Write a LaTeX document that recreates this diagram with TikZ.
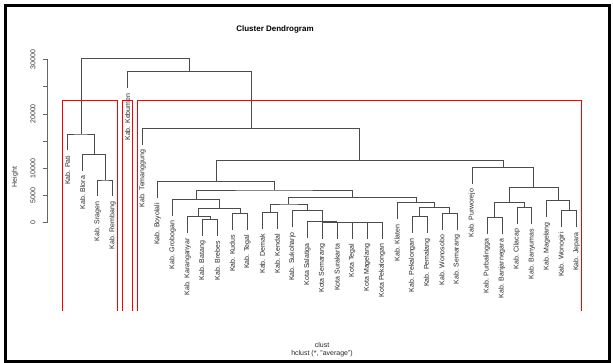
\documentclass[tikz,border=0pt]{standalone}
\usepackage{fontspec}
\setmainfont{Liberation Sans}
\usetikzlibrary{positioning, calc}

\begin{document}
\begin{tikzpicture}[x=1pt, y=-1pt]
        % Define styles
        \tikzset{
            branch/.style={black!70, line width=0.6pt},
            cutbox/.style={red, line width=0.7pt},
            leaflabel/.style={font=\fontsize{7}{8}\selectfont, text=black!85, rotate=90, anchor=east, inner sep=0pt},
            axislabel/.style={font=\fontsize{7}{8}\selectfont, text=black!80, rotate=90, inner sep=0pt}
        }
        \useasboundingbox (0,0) rectangle (613,363);
        % Outer frame
        \draw[line width=3pt] (5,6) rectangle (609,361);
        % Title
        \node[font=\bfseries\fontsize{8}{9}\selectfont] (title) at (275,29) {Cluster Dendrogram};
        % Axis with ticks (heights in thousands)
        \draw[black!60] (47,222.7) -- (47,59.5);
        \foreach \h in {0,5,...,30}
            \draw[black!60] (47,{222.7-5.44*\h}) -- ++(-4,0);
        \foreach \h/\t in {0/0, 5/5000, 10/10000, 20/20000, 30/30000}
            \node[axislabel] (tick-\h) at (33,{222.7-5.44*\h}) {\t};
        \node[axislabel] (ylab) at (15,177) {Height};
        % Leaves: name / bottom of leaf line / text
        \foreach \n/\b/\t [count=\i from 0] in {
            pati/150.5/Kab. Pati, blora/170.8/Kab. Blora, sragen/196.5/Kab. Sragen,
            rembang/196.5/Kab. Rembang, kebumen/88.5/Kab. Kebumen, temanggung/144.8/Kab. Temanggung,
            boyolali/198.2/Kab. Boyolali, grobogan/215.8/Kab. Grobogan, karanganyar/233.2/Kab. Karanganyar,
            batang/235.8/Kab. Batang, brebes/235.8/Kab. Brebes, kudus/229.8/Kab. Kudus,
            tegal/229.8/Kab. Tegal, demak/229.2/Kab. Demak, kendal/229.2/Kab. Kendal,
            sukoharjo/227.2/Kab. Sukoharjo, ktsalatiga/238.2/Kota Salatiga, ktsemarang/238.8/Kota Semarang,
            ktsurakarta/238.8/Kota Surakarta, kttegal/238.8/Kota Tegal, ktmagelang/238.8/Kota Magelang,
            ktpekalongan/238.8/Kota Pekalongan, klaten/219.2/Kab. Klaten, pekalongan/233.2/Kab. Pekalongan,
            pemalang/233.2/Kab. Pemalang, wonosobo/229.8/Kab. Wonosobo, semarang/229.8/Kab. Semarang,
            purworejo/183.8/Kab. Purworejo, purbalingga/233.8/Kab. Purbalingga, banjarnegara/233.8/Kab. Banjarnegara,
            cilacap/223.8/Kab. Cilacap, banyumas/223.8/Kab. Banyumas, magelang/217.2/Kab. Magelang,
            wonogiri/227.2/Kab. Wonogiri, jepara/227.2/Kab. Jepara}
        {
            \coordinate (\n) at ({67.7+14.97*\i},\b);
            \node[leaflabel] (\n-l) at ($(\n)+(0,5)$) {\t};
        }
        % Merge points
        \coordinate (L3) at (105.1,180);
        \coordinate (L2) at (93.9,154.3);
        \coordinate (L1) at (80.8,134);
        \coordinate (J) at (209.9,219.3);
        \coordinate (H) at (198.7,216.7);
        \coordinate (I) at (239.9,213.3);
        \coordinate (G) at (219.3,208.3);
        \coordinate (E) at (195.9,199.3);
        \coordinate (N) at (269.8,212.7);
        \coordinate (Q4) at (374.6,222.3);
        \coordinate (Q3) at (363.4,222.3);
        \coordinate (Q2) at (350.3,222.3);
        \coordinate (Q1) at (336.3,222.3);
        \coordinate (Q) at (321.8,221.7);
        \coordinate (P) at (307,210.7);
        \coordinate (K) at (288.4,204);
        \coordinate (S1) at (419.5,216.7);
        \coordinate (S2) at (449.5,213.3);
        \coordinate (O) at (434.5,207.3);
        \coordinate (M) at (415.8,202.7);
        \coordinate (F) at (352.1,197.5);
        \coordinate (D) at (274,190);
        \coordinate (B) at (215.8,181.7);
        \coordinate (U1) at (494.4,217.3);
        \coordinate (U2) at (524.3,207.3);
        \coordinate (U) at (509.3,202.7);
        \coordinate (V1) at (569.2,210.7);
        \coordinate (V) at (558,200.7);
        \coordinate (T) at (533.6,187.3);
        \coordinate (C) at (502.8,167.3);
        \coordinate (A) at (359.3,160.7);
        \coordinate (R2) at (251,128.3);
        \coordinate (R1) at (189.3,71.7);
        \coordinate (root) at (135,58.3);
        % Branches: left child / merge / right child
        \foreach \a/\m/\b in {
            sragen/L3/rembang, blora/L2/L3, pati/L1/L2,
            batang/J/brebes, karanganyar/H/J, kudus/I/tegal, H/G/I, grobogan/E/G,
            demak/N/kendal, ktmagelang/Q4/ktpekalongan, kttegal/Q3/Q4, ktsurakarta/Q2/Q3,
            ktsemarang/Q1/Q2, ktsalatiga/Q/Q1, sukoharjo/P/Q, N/K/P,
            pekalongan/S1/pemalang, wonosobo/S2/semarang, S1/O/S2, klaten/M/O, K/F/M,
            E/D/F, boyolali/B/D,
            purbalingga/U1/banjarnegara, cilacap/U2/banyumas, U1/U/U2,
            wonogiri/V1/jepara, magelang/V/V1, U/T/V, purworejo/C/T,
            B/A/C, temanggung/R2/A, kebumen/R1/R2, L1/root/R1}
            \draw[branch] (\a) |- (\m) -| (\b);
        % Cut into three clusters
        \draw[cutbox] (62.6,311) |- (117.4,100.7) -- (117.4,311);
        \draw[cutbox] (122.5,311) |- (132.5,100.7) -- (132.5,311);
        \draw[cutbox] (137.5,311) |- (581.6,100.7) -- (581.6,311);
        % Axis title under the tree
        \node[font=\fontsize{7}{8}\selectfont, text=black!85] (xlab) at (322,345) {clust};
        \node[font=\fontsize{7}{8}\selectfont, text=black!85] (sub) at (322,354) {hclust (*, "average")};
    \end{tikzpicture}
\end{document}
